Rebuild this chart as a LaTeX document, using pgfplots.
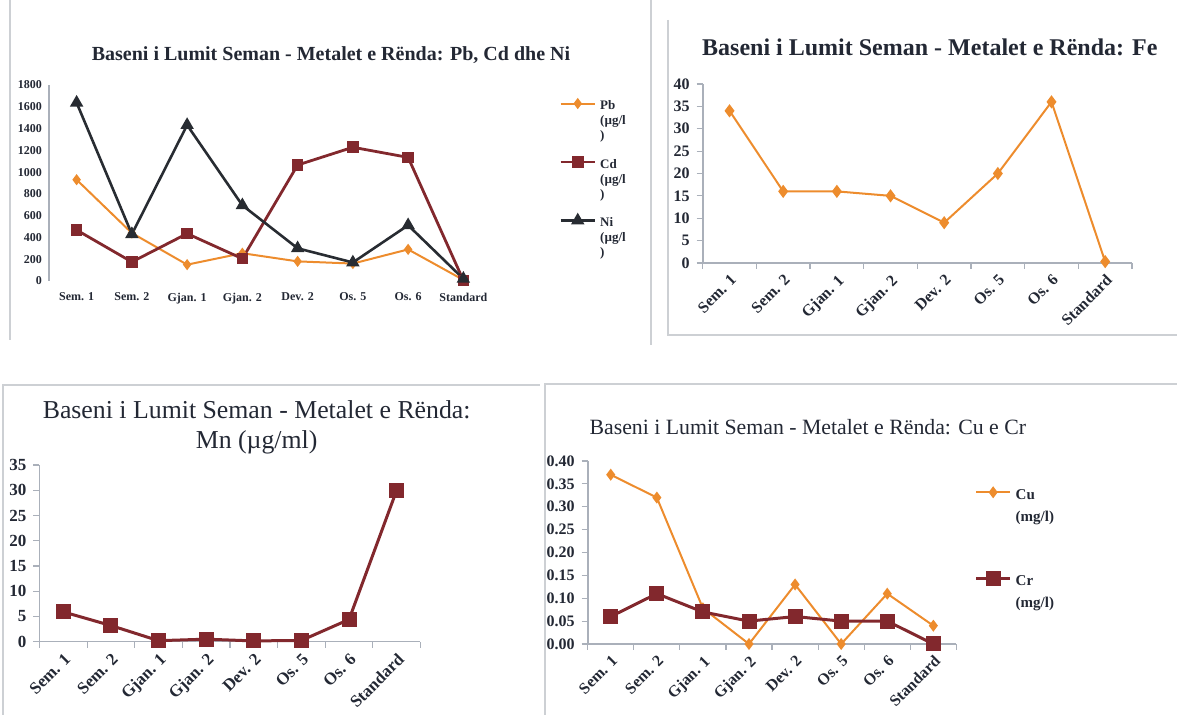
\documentclass[border=0pt]{standalone}
\usepackage{pgfplots}
\pgfplotsset{compat=1.18}
\usepackage{fontspec}
\setmainfont{Liberation Serif}

\definecolor{orC}{RGB}{237,140,45}
\definecolor{rdC}{RGB}{130,40,45}
\definecolor{bkC}{RGB}{40,44,50}
\definecolor{axC}{RGB}{170,176,186}
\definecolor{txC}{RGB}{35,40,52}
\definecolor{frC}{RGB}{205,208,212}

\pgfplotsset{
  every axis title shift=0pt,
  base/.style={
    scale only axis, anchor=south west,
    xmin=-0.5, xmax=7.5, ymin=0, clip=false,
    axis lines*=left,
    axis line style={axC, line width=0.8pt},
    xtick={0,...,7},
    xticklabels={Sem. 1,Sem. 2,Gjan. 1,Gjan. 2,Dev. 2,Os. 5,Os. 6,Standard},
    /pgf/number format/assume math mode=true,
    /pgf/number format/1000 sep={},
    tick align=outside,
    every tick/.style={axC, line width=0.6pt},
    major x tick style={draw=none},
    minor xtick={-0.5,0.5,...,7.5},
    minor tick length=3pt, major tick length=3pt,
    ticklabel style={text=txC},
    title style={text=txC, align=center},
    legend style={draw=none, fill=none, text=txC},
  },
  rot/.style={xticklabel style={rotate=45, anchor=north east, inner sep=1.5pt}},
}

\begin{document}
\begin{tikzpicture}
\path[use as bounding box] (0,0) rectangle (588.5pt,357.5pt);
% panel frames
\draw[frC, line width=0.8pt] (5pt,357.5pt) -- (5pt,187.5pt);
\draw[frC, line width=0.8pt] (325.5pt,357.5pt) -- (325.5pt,185pt);
\draw[frC, line width=0.8pt] (334pt,347.5pt) -- (334pt,190pt) -- (588.5pt,190pt);
\draw[frC, line width=0.8pt] (1.5pt,0pt) -- (1.5pt,165pt) -- (270pt,165pt);
\draw[frC, line width=0.8pt] (272.5pt,0pt) -- (272.5pt,165.5pt) -- (588.5pt,165.5pt);

% ---------- Chart 1: Pb, Cd, Ni ----------
\begin{axis}[base,
  at={(24.5pt,217pt)}, width=221pt, height=98pt,
  ymax=1800, ytick={0,200,...,1800},
  x axis line style={draw=none},
  minor xtick={}, major tick length=0pt,
  ticklabel style={font=\bfseries\fontsize{6}{7}\selectfont},
  xticklabel style={yshift=-2.5pt},
  title={\bfseries Baseni i Lumit Seman - Metalet e Rënda: Pb, Cd dhe Ni},
  title style={font=\fontsize{10}{12}\selectfont, at={(0.638,1.153)}, anchor=center},
  legend style={at={(1.14,0.97)}, anchor=north west,
    font=\bfseries\fontsize{6.5}{7.5}\selectfont, row sep=11pt},
  legend image post style={yshift=5pt},
  legend cell align=left,
]
\addplot[orC, line width=1pt, mark=diamond*, mark size=2pt] coordinates {
 (0,930) (1,440) (2,150) (3,255) (4,180) (5,160) (6,290) (7,10)};
\addlegendentry{\begin{tabular}{@{}l@{}}Pb\\(µg/l\\)\end{tabular}}
\addplot[rdC, line width=1.4pt, mark=square*, mark size=2.2pt] coordinates {
 (0,468) (1,175) (2,435) (3,205) (4,1065) (5,1228) (6,1135) (7,5)};
\addlegendentry{\begin{tabular}{@{}l@{}}Cd\\(µg/l\\)\end{tabular}}
\addplot[bkC, line width=1.3pt, mark=triangle*, mark size=2.6pt] coordinates {
 (0,1637) (1,430) (2,1432) (3,695) (4,300) (5,170) (6,512) (7,20)};
\addlegendentry{\begin{tabular}{@{}l@{}}Ni\\(µg/l\\)\end{tabular}}
\end{axis}

% ---------- Chart 2: Fe ----------
\begin{axis}[base, rot,
  at={(351.35pt,226pt)}, width=214.65pt, height=89.5pt,
  ymax=40, ytick={0,5,...,40},
  ticklabel style={font=\bfseries\fontsize{8}{9}\selectfont},
  title={\bfseries Baseni i Lumit Seman - Metalet e Rënda: Fe},
  title style={font=\fontsize{12}{14}\selectfont, at={(0.529,1.207)}, anchor=center},
]
\addplot[orC, line width=1pt, mark=diamond*, mark size=2.5pt] coordinates {
 (0,34) (1,16) (2,16) (3,15) (4,9) (5,20) (6,36) (7,0.3)};
\end{axis}

% ---------- Chart 3: Mn ----------
\begin{axis}[base, rot,
  at={(19.75pt,36.65pt)}, width=190.5pt, height=88.35pt,
  ymax=35, ytick={0,5,...,35},
  ticklabel style={font=\bfseries\fontsize{8.5}{10}\selectfont},
  title={Baseni i Lumit Seman - Metalet e Rënda:\\Mn (µg/ml)},
  title style={font=\fontsize{12.9}{15}\selectfont, at={(0.570,1.212)}, anchor=center},
]
\addplot[rdC, line width=1.5pt, mark=square*, mark size=3pt] coordinates {
 (0,5.9) (1,3.2) (2,0.2) (3,0.5) (4,0.15) (5,0.25) (6,4.4) (7,30)};
\end{axis}

% ---------- Chart 4: Cu, Cr ----------
\begin{axis}[base, rot,
  at={(293.85pt,35.5pt)}, width=184.35pt, height=91.5pt,
  ymax=0.4, ytick={0,0.05,0.1,0.15,0.2,0.25,0.3,0.35,0.4},
  yticklabel style={/pgf/number format/.cd, fixed, fixed zerofill, precision=2},
  ticklabel style={font=\bfseries\fontsize{8}{9}\selectfont},
  title={Baseni i Lumit Seman - Metalet e Rënda: Cu e Cr},
  title style={font=\fontsize{10.9}{13}\selectfont, at={(0.597,1.186)}, anchor=center},
  legend style={at={(1.032,0.92)}, anchor=north west,
    font=\bfseries\fontsize{7.5}{11}\selectfont, row sep=25pt},
  legend image post style={yshift=3pt},
  legend cell align=left,
]
\addplot[orC, line width=1pt, mark=diamond*, mark size=2.2pt] coordinates {
 (0,0.37) (1,0.32) (2,0.078) (3,0.0) (4,0.13) (5,0.0) (6,0.11) (7,0.04)};
\addlegendentry{\begin{tabular}{@{}l@{}}Cu\\(mg/l)\end{tabular}}
\addplot[rdC, line width=1.5pt, mark=square*, mark size=3pt] coordinates {
 (0,0.06) (1,0.11) (2,0.07) (3,0.05) (4,0.06) (5,0.05) (6,0.05) (7,0.0)};
\addlegendentry{\begin{tabular}{@{}l@{}}Cr\\(mg/l)\end{tabular}}
\end{axis}
\end{tikzpicture}
\end{document}
